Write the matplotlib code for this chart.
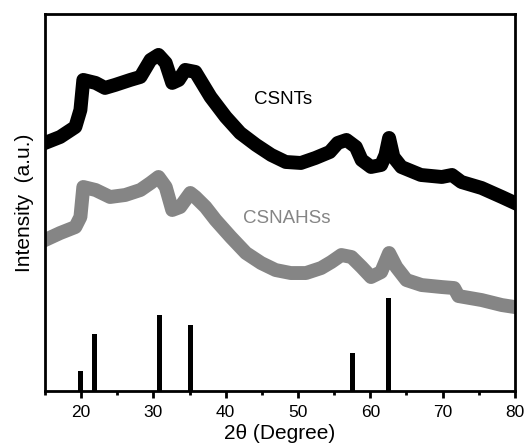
import numpy as np
import matplotlib
matplotlib.use('Agg')
import matplotlib.pyplot as plt
from matplotlib.ticker import MultipleLocator

plt.rcParams['font.family'] = ['Liberation Sans', 'DejaVu Sans']

# CSNTs pattern (2theta, intensity a.u.)
csnt_x = [15.0, 17.1, 19.2, 19.9, 20.3, 22.0, 23.3, 24.7, 26.8, 28.2, 29.6, 30.7,
          31.7, 32.6, 33.5, 34.4, 35.8, 37.9, 40.0, 42.0, 44.2, 46.3, 48.3, 50.4,
          52.4, 54.4, 55.5, 56.7, 58.0, 58.8, 60.1, 61.5, 62.1, 62.6, 63.2, 64.3,
          67.0, 69.9, 71.3, 72.6, 75.4, 78.2, 80.0]
csnt_y = [248, 254, 264, 281, 311, 308, 303, 306, 311, 314, 331, 336,
          328, 308, 311, 321, 319, 294, 274, 258, 246, 236, 229, 228,
          233, 239, 248, 251, 244, 231, 224, 226, 236, 253, 234, 224,
          216, 214, 216, 209, 203, 194, 188]

# CSNAHSs pattern
csnahs_x = [15.0, 17.1, 19.2, 19.9, 20.3, 22.0, 24.0, 26.1, 28.2, 29.6, 30.7, 31.7,
            32.6, 33.7, 35.1, 35.8, 37.2, 38.6, 40.7, 42.8, 44.9, 46.9, 49.0, 51.1,
            53.2, 54.6, 56.0, 57.4, 58.8, 60.1, 61.5, 62.6, 63.6, 65.0, 67.1, 69.9,
            71.6, 72.2, 75.4, 78.2, 80.0]
csnahs_y = [151, 158, 164, 174, 204, 201, 194, 196, 201, 208, 214, 204,
            181, 184, 198, 194, 184, 171, 154, 138, 128, 121, 118, 118,
            123, 129, 136, 134, 124, 114, 119, 138, 124, 111, 106, 104,
            103, 95, 91, 86, 84]

# reference lines
ref_pos = [19.9, 21.9, 30.9, 35.1, 57.5, 62.5]
ref_int = [20, 57, 76, 66, 38, 93]

fig = plt.figure(figsize=(5.25, 4.48), dpi=100)
ax = fig.add_axes([0.0857, 0.127, 0.895, 0.842])

ax.plot(csnt_x, csnt_y, color='black', lw=10, solid_joinstyle='round')
ax.plot(csnahs_x, csnahs_y, color='#858585', lw=10, solid_joinstyle='round')
ax.bar(ref_pos, ref_int, width=0.7, color='black')

ax.text(48.0, 291, 'CSNTs', fontsize=13.5, color='black', ha='center', va='center')
ax.text(48.5, 173, 'CSNAHSs', fontsize=13.5, color='#858585', ha='center', va='center')

ax.set_xlim(15, 80)
ax.set_ylim(0, 377)
ax.xaxis.set_major_locator(MultipleLocator(10))
ax.xaxis.set_minor_locator(MultipleLocator(5))
ax.tick_params(axis='x', which='major', direction='out', length=5, width=2, labelsize=12.5, pad=5)
ax.tick_params(axis='x', which='minor', direction='out', length=3, width=2)
ax.set_yticks([])
for s in ax.spines.values():
    s.set_linewidth(2)

ax.set_xlabel('2θ (Degree)', fontsize=15, labelpad=3)
ax.set_ylabel('Intensity  (a.u.)', fontsize=15, labelpad=8)

fig.savefig('out.png', dpi=100)
